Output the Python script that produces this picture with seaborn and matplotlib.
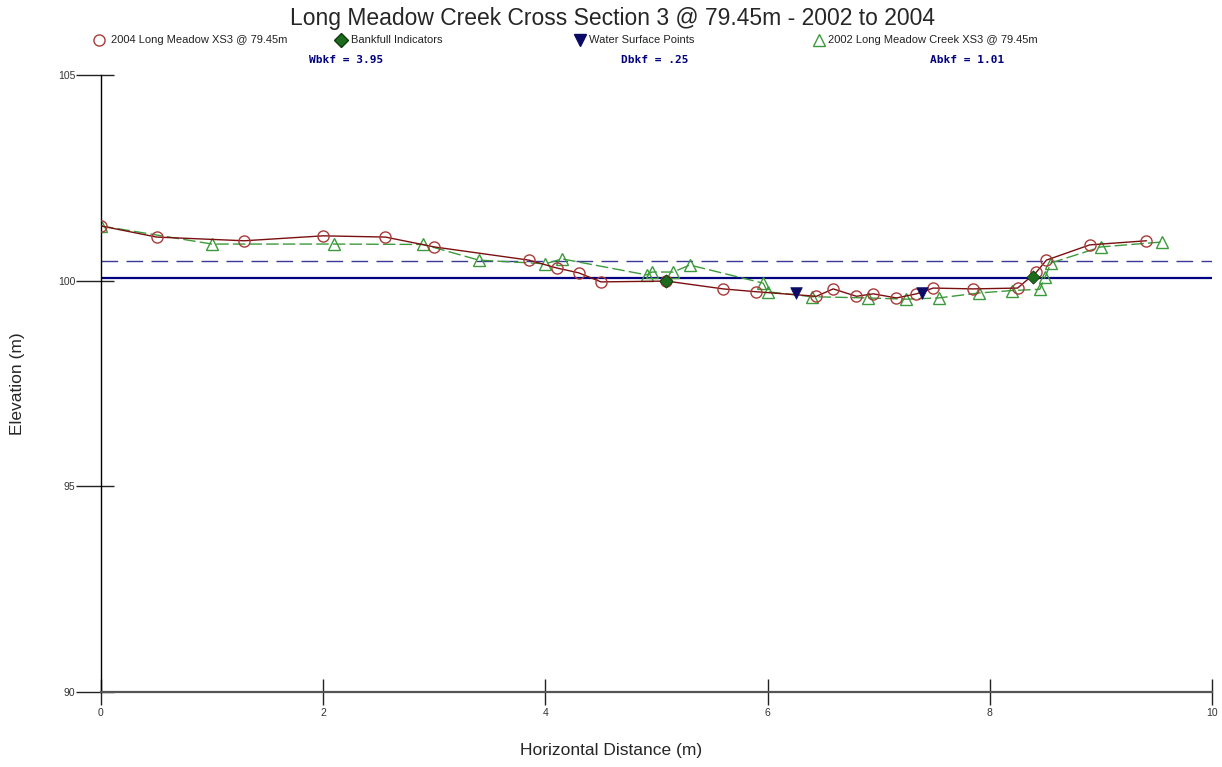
import matplotlib
matplotlib.use("Agg")
import matplotlib.pyplot as plt
from matplotlib.lines import Line2D
import seaborn as sns
import pandas as pd

# ---- data ----
x_2004 = [0.00, 0.50, 1.29, 2.00, 2.56, 3.00, 3.85, 4.10, 4.30, 4.50, 5.09, 5.60, 5.90,
          6.44, 6.59, 6.80, 6.95, 7.16, 7.34, 7.49, 7.85, 8.25, 8.42, 8.51, 8.90, 9.41]
y_2004 = [101.33, 101.06, 100.97, 101.09, 101.06, 100.82, 100.50, 100.31, 100.19, 99.97, 99.99, 99.80, 99.73,
          99.62, 99.80, 99.62, 99.68, 99.58, 99.68, 99.82, 99.80, 99.82, 100.21, 100.50, 100.87, 100.97]

x_2002 = [0.00, 1.00, 2.10, 2.90, 3.40, 4.00, 4.15, 4.91, 4.96, 5.15, 5.30, 5.96, 6.00,
          6.40, 6.90, 7.25, 7.54, 7.90, 8.20, 8.45, 8.50, 8.55, 9.00, 9.55]
y_2002 = [101.33, 100.89, 100.89, 100.88, 100.50, 100.41, 100.53, 100.14, 100.21, 100.21, 100.38, 99.94, 99.73,
          99.61, 99.58, 99.55, 99.58, 99.70, 99.76, 99.79, 100.10, 100.43, 100.82, 100.94]

bankfull_x = [5.09, 8.39]
bankfull_y = [99.99, 100.09]
water_x = [6.26, 7.39]
water_y = [99.70, 99.70]

water_level = 100.06
bankfull_level = 100.49

x_ticks = [0, 2, 4, 6, 8, 10]
y_ticks = [90, 95, 100, 105]

title = "Long Meadow Creek Cross Section 3 @ 79.45m - 2002 to 2004"
legend_labels = ["2004 Long Meadow XS3 @ 79.45m", "Bankfull Indicators",
                 "Water Surface Points", "2002 Long Meadow Creek XS3 @ 79.45m"]
annotations = ["Wbkf = 3.95", "Dbkf = .25", "Abkf = 1.01"]

# ---- style ----
sns.set_style("white")
plt.rcParams['font.family'] = ['Liberation Sans', 'DejaVu Sans']

W, H = 1222, 767
fig = plt.figure(figsize=(W / 100, H / 100), dpi=100)
ax = fig.add_axes([101 / W, 1 - 692 / H, 1111 / W, 617 / H])

df04 = pd.DataFrame({"x": x_2004, "y": y_2004})
df02 = pd.DataFrame({"x": x_2002, "y": y_2002})
dfb = pd.DataFrame({"x": bankfull_x, "y": bankfull_y})
dfw = pd.DataFrame({"x": water_x, "y": water_y})

c04_line = "#7a1010"
c04_mark = "#a83a3a"
c02 = "#3c9a3c"
navy = "#000080"

ax.axhline(water_level, color=navy, lw=1.6, zorder=1)
ax.axhline(bankfull_level, color="#3a3a96", lw=1.0, dashes=(12, 6), zorder=1)

sns.lineplot(data=df02, x="x", y="y", ax=ax, sort=False, estimator=None,
             color=c02, lw=1.0, dashes=False, linestyle=(0, (9, 3)),
             marker="^", markersize=9, markerfacecolor="none",
             markeredgecolor=c02, markeredgewidth=1.0, zorder=2)
sns.lineplot(data=df04, x="x", y="y", ax=ax, sort=False, estimator=None,
             color=c04_line, lw=1.0,
             marker="o", markersize=8, markerfacecolor="none",
             markeredgecolor=c04_mark, markeredgewidth=1.0, zorder=3)
sns.scatterplot(data=dfb, x="x", y="y", ax=ax, marker="D", s=45,
                color="#1d6b1d", edgecolor="#0d3d0d", linewidth=0.6, zorder=4)
sns.scatterplot(data=dfw, x="x", y="y", ax=ax, marker="v", s=70,
                color="#0a0a66", edgecolor="#0a0a66", linewidth=0.5, zorder=4)

ax.set_xlim(0, 10)
ax.set_ylim(90, 105)
ax.set_xticks(x_ticks)
ax.set_yticks(y_ticks)
ax.set_xticklabels([str(t) for t in x_ticks])
ax.set_yticklabels([str(t) for t in y_ticks])

for s in ["top", "right"]:
    ax.spines[s].set_visible(False)
ax.spines["left"].set_color("black")
ax.spines["left"].set_linewidth(1.0)
ax.spines["bottom"].set_color("#555555")
ax.spines["bottom"].set_linewidth(1.6)

ax.tick_params(axis="x", which="major", bottom=True, direction="inout", length=19, width=1.0,
               color="#222222", labelsize=7.5, labelcolor="#333333", pad=2)
ax.tick_params(axis="y", which="major", left=True, direction="out", length=18, width=1.0,
               color="#222222", labelsize=7.5, labelcolor="#333333", pad=0.5)
ax.set_yticks(y_ticks, minor=True)
ax.yaxis.remove_overlapping_locs = False
ax.tick_params(axis="y", which="minor", left=True, direction="in", length=9, width=1.0,
               color="#222222")

ax.set_xlabel("Horizontal Distance (m)", fontsize=12.5)
ax.set_ylabel("Elevation (m)", fontsize=12.5)
ax.xaxis.set_label_coords(0.4595, (692 - 750) / -617 * -1)
ax.yaxis.set_label_coords((18 - 101) / 1111, 0.5)
ax.xaxis.label.set_va("center")
ax.yaxis.label.set_va("center")
ax.grid(False)

# title
fig.text(613 / W, 1 - 18 / H, title, ha="center", va="center", fontsize=16.5)

# legend row
ly = 1 - 40 / H
items = [
    (99, 111, dict(marker="o", markersize=8, markerfacecolor="none", markeredgecolor=c04_mark)),
    (341, 351, dict(marker="D", markersize=7, markerfacecolor="#1d6b1d", markeredgecolor="#0d3d0d")),
    (580, 589, dict(marker="v", markersize=9, markerfacecolor="#0a0a66", markeredgecolor="#0a0a66")),
    (819, 828, dict(marker="^", markersize=9, markerfacecolor="none", markeredgecolor=c02)),
]
for (mx, tx, mk), lab in zip(items, legend_labels):
    fig.add_artist(Line2D([mx / W], [ly], transform=fig.transFigure, linestyle="none", **mk))
    fig.text(tx / W, ly, lab, ha="left", va="center", fontsize=8, color="#222222")

# bankfull annotations
for cx, txt in zip([346, 655, 967], annotations):
    fig.text(cx / W, 1 - 60 / H, txt, ha="center", va="center", fontsize=8,
             family="DejaVu Sans Mono", fontweight="bold", color=navy)

fig.savefig("out.png", dpi=100)
